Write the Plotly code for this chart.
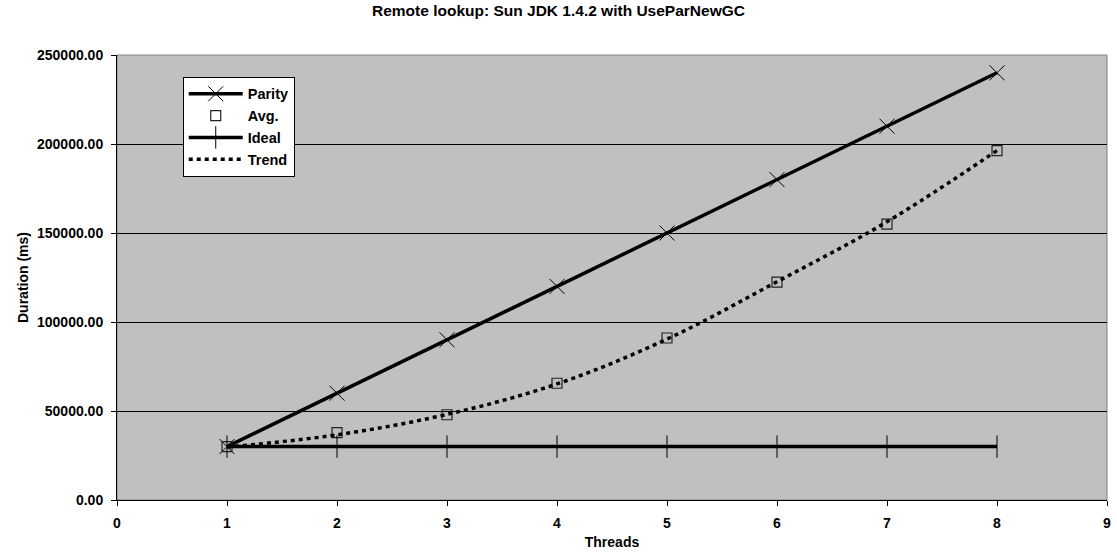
import plotly.graph_objects as go

threads = [1, 2, 3, 4, 5, 6, 7, 8]
parity = [30000, 60000, 90000, 120000, 150000, 180000, 210000, 240000]
avg = [30000, 37900, 47900, 65600, 91000, 122400, 155000, 196300]
ideal = [30000, 30000, 30000, 30000, 30000, 30000, 30000, 30000]
trend = [29700, 36600, 48100, 65200, 90400, 122600, 156300, 196300]

y_ticks = [0, 50000, 100000, 150000, 200000, 250000]
x_ticks = [0, 1, 2, 3, 4, 5, 6, 7, 8, 9]

FONT = "Liberation Sans, Arial, sans-serif"

fig = go.Figure()

fig.add_trace(go.Scatter(
    x=threads, y=parity, name="<b>Parity</b>", mode="lines+markers",
    line=dict(color="black", width=3.5),
    marker=dict(symbol="x-thin", size=15, line=dict(color="black", width=1)),
))
fig.add_trace(go.Scatter(
    x=threads, y=avg, name="<b>Avg.</b>", mode="markers",
    marker=dict(symbol="square-open", size=10, color="#222222",
                line=dict(color="#222222", width=1.2)),
))
fig.add_trace(go.Scatter(
    x=threads, y=ideal, name="<b>Ideal</b>", mode="lines+markers",
    line=dict(color="black", width=3.5),
    marker=dict(symbol="line-ns", size=16, line=dict(color="black", width=1)),
))
fig.add_trace(go.Scatter(
    x=threads, y=trend, name="<b>Trend</b>", mode="lines",
    line=dict(color="black", width=3.5, dash="4px,4px", shape="spline"),
))

fig.update_layout(
    width=1117, height=554,
    margin=dict(l=117, r=6, t=55, b=53),
    paper_bgcolor="white",
    plot_bgcolor="#C0C0C0",
    font=dict(family=FONT, size=13, color="black"),
    title=dict(text="<b>Remote lookup: Sun JDK 1.4.2 with UseParNewGC</b>",
               x=0.5, xanchor="center", y=0.99, yanchor="top",
               font=dict(size=15.5, family=FONT)),
    legend=dict(
        x=0.0664, y=0.951, xanchor="left", yanchor="top",
        bgcolor="white", bordercolor="black", borderwidth=1,
        font=dict(size=14.5, family=FONT), tracegroupgap=0,
        itemwidth=54,
    ),
    xaxis=dict(
        range=[0, 9], tickmode="array", tickvals=x_ticks,
        ticktext=[f"<b>{v}</b>" for v in x_ticks],
        showgrid=False, zeroline=False,
        showline=True, linecolor="black", linewidth=1,
        ticks="outside", ticklen=5, tickcolor="black",
        ticklabelstandoff=5,
        tickfont=dict(size=14),
        title=dict(text="<b>Threads</b>", font=dict(size=14), standoff=7),
        mirror=False,
    ),
    yaxis=dict(
        range=[0, 250000], tickmode="array", tickvals=y_ticks,
        ticktext=[f"<b>{v:.2f}</b>" for v in y_ticks],
        showgrid=True, gridcolor="black", gridwidth=1,
        zeroline=False,
        showline=True, linecolor="black", linewidth=1,
        ticks="outside", ticklen=5, tickcolor="black",
        ticklabelstandoff=5,
        tickfont=dict(size=14),
        title=dict(text="<b>Duration (ms)</b>", font=dict(size=14), standoff=5),
    ),
)

# thin gray frame around the plotting area
fig.add_shape(type="rect", xref="paper", yref="paper", x0=0, y0=0, x1=1, y1=1,
              line=dict(color="#808080", width=1), layer="below")

fig.write_html("out.html")
